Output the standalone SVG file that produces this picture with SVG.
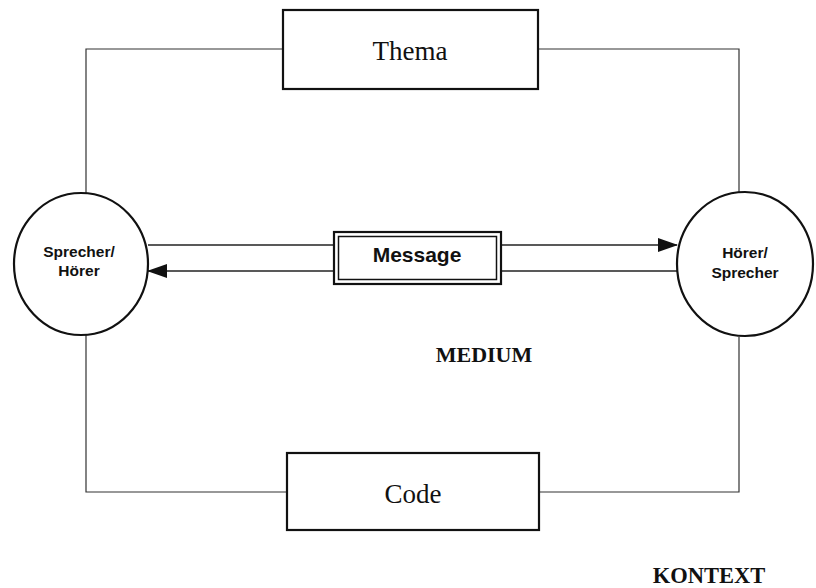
<svg xmlns="http://www.w3.org/2000/svg" width="816" height="588" viewBox="0 0 816 588">
<style>
.frame{fill:none;stroke:#333;stroke-width:1.2}
.box{fill:#fff;stroke:#111;stroke-width:2.2}
.circ{fill:#fff;stroke:#111;stroke-width:2.2}
.serif{font-family:"Liberation Serif","Times New Roman",serif;fill:#111;text-anchor:middle}
.sans{font-family:"Liberation Sans",Arial,sans-serif;font-weight:bold;fill:#111;text-anchor:middle}
.arrow{fill:none;stroke:#222;stroke-width:1.4}
</style>
<defs>
<marker id="ah" markerWidth="20" markerHeight="14" refX="19" refY="7" orient="auto" markerUnits="userSpaceOnUse">
<path d="M0,0 L20,7 L0,14 Z" fill="#111"/>
</marker>
</defs>
<rect width="816" height="588" fill="#fff"/>
<g id="connectors">
<path class="frame" d="M283,49 H86 V193"/>
<path class="frame" d="M538,49 H739 V192"/>
<path class="frame" d="M86,335 V492 H287"/>
<path class="frame" d="M739,337 V492 H539"/>
<path class="arrow" d="M148,245 H334"/>
<path class="arrow" d="M501,245 H677" marker-end="url(#ah)"/>
<path class="arrow" d="M677,271 H501"/>
<path class="arrow" d="M334,271 H148" marker-end="url(#ah)"/>
</g>
<g id="thema">
<rect class="box" x="283" y="10" width="255" height="79"/>
<text class="serif" x="410" y="60" font-size="27">Thema</text>
</g>
<g id="code">
<rect class="box" x="287" y="453" width="252" height="77"/>
<text class="serif" x="413" y="503" font-size="27">Code</text>
</g>
<g id="message">
<rect class="box" x="334" y="232" width="167" height="52"/>
<rect fill="none" stroke="#111" stroke-width="1.5" x="338.5" y="236.5" width="158" height="43"/>
<text class="sans" x="417" y="262" font-size="21">Message</text>
</g>
<g id="sprecher">
<ellipse class="circ" cx="81" cy="264" rx="67" ry="71"/>
<text class="sans" x="79" y="257" font-size="15.5">Sprecher/</text>
<text class="sans" x="79" y="276" font-size="15.5">Hörer</text>
</g>
<g id="hoerer">
<ellipse class="circ" cx="745" cy="264" rx="68" ry="72"/>
<text class="sans" x="745" y="258" font-size="15.5">Hörer/</text>
<text class="sans" x="745" y="278" font-size="15.5">Sprecher</text>
</g>
<g id="labels">
<text class="serif" x="484" y="362" font-size="22" font-weight="bold">MEDIUM</text>
<text class="serif" x="709" y="583" font-size="22.5" font-weight="bold">KONTEXT</text>
</g>
</svg>
